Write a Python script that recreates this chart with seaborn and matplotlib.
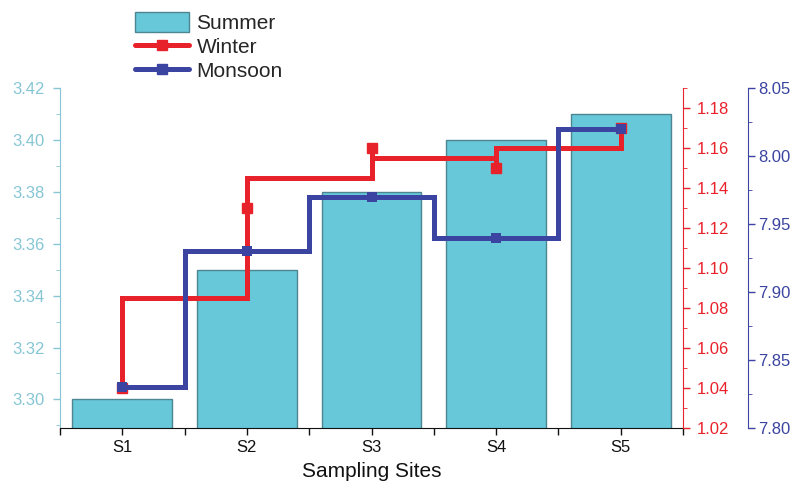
import numpy as np
import matplotlib
matplotlib.use("Agg")
import matplotlib.pyplot as plt
import seaborn as sns
from matplotlib.lines import Line2D
from matplotlib.patches import Patch
from matplotlib.ticker import MultipleLocator

sites = ["S1", "S2", "S3", "S4", "S5"]
summer = [3.30, 3.35, 3.38, 3.40, 3.41]
winter = [1.04, 1.13, 1.16, 1.15, 1.17]
monsoon = [7.83, 7.93, 7.97, 7.94, 8.02]

BAR_C = "#66c8d8"
BAR_EDGE = "#4d8590"
LEFT_C = "#86c6d4"
RED = "#e8222a"
BLUE = "#3b44a0"

sns.set_style("ticks")
plt.rcParams["font.family"] = ["Liberation Sans", "DejaVu Sans"]

fig, ax = plt.subplots(figsize=(7.96, 4.86), dpi=100)
fig.subplots_adjust(left=60 / 796, right=683 / 796, top=1 - 88 / 486, bottom=1 - 428 / 486)

# summer bars on the left axis
sns.barplot(x=sites, y=summer, ax=ax, color=BAR_C, edgecolor=BAR_EDGE,
            linewidth=1, width=0.8, saturation=1)
ax.set_xlim(-0.5, 4.5)
ax.set_ylim(3.289, 3.42)
ax.yaxis.set_major_locator(MultipleLocator(0.02))
ax.yaxis.set_minor_locator(MultipleLocator(0.01))
ax.yaxis.set_major_formatter(plt.FormatStrFormatter("%.2f"))
ax.xaxis.set_minor_locator(MultipleLocator(0.5))
ax.tick_params(axis="y", colors=LEFT_C, labelsize=12, length=5, width=1, pad=6)
ax.tick_params(axis="y", which="minor", colors=LEFT_C, length=3)
ax.tick_params(axis="x", colors="#111111", labelsize=12, length=5, width=1)
ax.tick_params(axis="x", which="minor", length=5, width=1, colors="#111111")
ax.spines["left"].set_color(LEFT_C)
ax.spines["top"].set_visible(False)
ax.spines["right"].set_visible(False)
ax.spines["bottom"].set_color("#111111")
ax.set_xlabel("Sampling Sites", fontsize=15, labelpad=5, color="#111111")
ax.set_ylabel("")

pos = np.arange(len(sites))

# winter: vertical steps at each site, horizontal runs at the mean of neighbours
ax2 = ax.twinx()
wx, wy = [], []
for i in range(len(winter) - 1):
    mid = (winter[i] + winter[i + 1]) / 2
    wx += [pos[i], pos[i], pos[i + 1]]
    wy += [winter[i], mid, mid]
wx.append(pos[-1])
wy.append(winter[-1])
ax2.plot(wx, wy, color=RED, lw=3.6, solid_joinstyle="miter")
ax2.plot(pos, winter, ls="none", marker="s", ms=6.5, color=RED)
ax2.set_ylim(1.02, 1.19)
ax2.yaxis.set_major_locator(MultipleLocator(0.02))
ax2.yaxis.set_minor_locator(MultipleLocator(0.01))
ax2.yaxis.set_major_formatter(plt.FormatStrFormatter("%.2f"))
ax2.tick_params(axis="y", colors=RED, labelsize=12, length=5, width=1, pad=5)
ax2.tick_params(axis="y", which="minor", colors=RED, length=3)
for s in ["left", "top", "bottom"]:
    ax2.spines[s].set_visible(False)
ax2.spines["right"].set_color(RED)

# monsoon: mid steps on an offset axis
ax3 = ax.twinx()
sns.lineplot(x=pos, y=monsoon, ax=ax3, color=BLUE, lw=3.6, drawstyle="steps-mid",
             marker="s", markersize=6.5, markeredgewidth=0, solid_joinstyle="miter")
ax3.set_ylim(7.80, 8.05)
ax3.spines["right"].set_position(("outward", 47))
ax3.yaxis.set_major_locator(MultipleLocator(0.05))
ax3.yaxis.set_minor_locator(MultipleLocator(0.025))
ax3.yaxis.set_major_formatter(plt.FormatStrFormatter("%.2f"))
ax3.tick_params(axis="y", colors=BLUE, labelsize=12, length=5, width=1, pad=2)
ax3.tick_params(axis="y", which="minor", colors=BLUE, length=3)
for s in ["left", "top", "bottom"]:
    ax3.spines[s].set_visible(False)
ax3.spines["right"].set_color(BLUE)
ax3.set_ylabel("")
ax.set_xticks(pos)
ax.set_xticklabels(sites)

handles = [
    Patch(facecolor=BAR_C, edgecolor=BAR_EDGE, lw=1),
    Line2D([], [], color=RED, lw=3.6, marker="s", ms=6.5),
    Line2D([], [], color=BLUE, lw=3.6, marker="s", ms=6.5),
]
fig.legend(handles, ["Summer", "Winter", "Monsoon"], loc="upper left",
           bbox_to_anchor=(135 / 796, 1 - 12 / 486), frameon=False, fontsize=15,
           handlelength=2.6, handleheight=1.1, handletextpad=0.35,
           labelspacing=0.15, borderpad=0, borderaxespad=0)

fig.savefig("out.png", dpi=100)
